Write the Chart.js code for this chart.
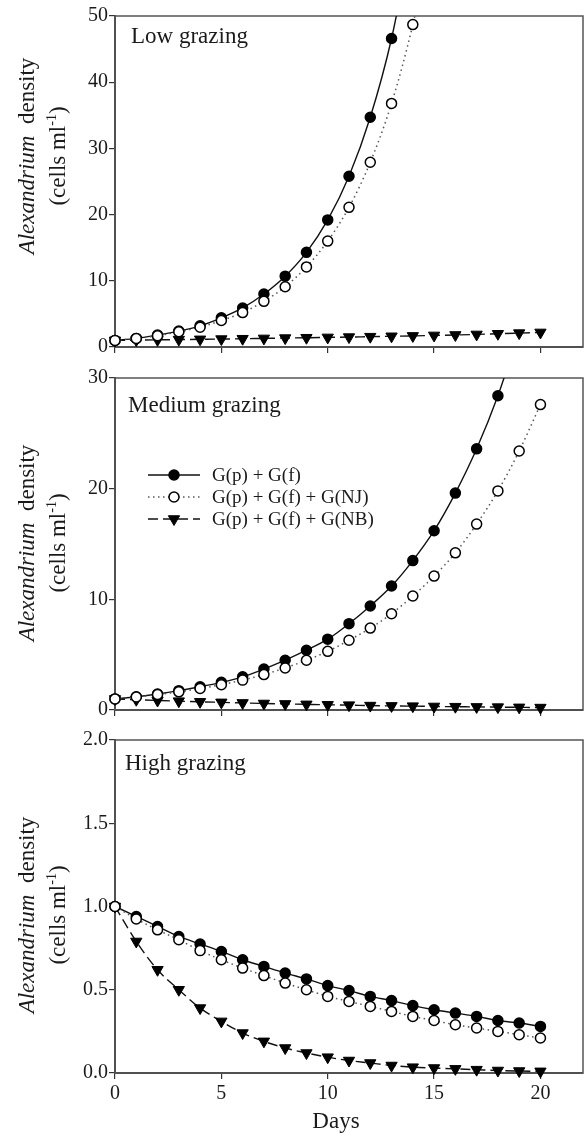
<!DOCTYPE html>
<html>
<head>
<meta charset="utf-8">
<script src="https://cdn.jsdelivr.net/npm/chart.js@4/dist/chart.umd.min.js"></script>
<style>
html, body { margin: 0; padding: 0; background: #fff; }
#wrap { position: relative; width: 586px; height: 1133px; }
canvas { position: absolute; left: 0; }
</style>
</head>
<body>
<div id="wrap">
  <canvas id="low" width="586" height="360" style="top:0px"></canvas>
  <canvas id="medium" width="586" height="363" style="top:360px"></canvas>
  <canvas id="high" width="586" height="410" style="top:723px"></canvas>
</div>
<script>
// days on the x axis
const days = [0,1,2,3,4,5,6,7,8,9,10,11,12,13,14,15,16,17,18,19,20];
const xTicks = [0,5,10,15,20];

// series names (legend)
const seriesNames = ["G(p) + G(f)", "G(p) + G(f) + G(NJ)", "G(p) + G(f) + G(NB)"];

// Low grazing (last points run off the top of the panel)
const lowP  = [1.0,1.3,1.8,2.4,3.2,4.4,5.9,8.0,10.7,14.3,19.2,25.8,34.7,46.6,63];
const lowNJ = [1.0,1.3,1.7,2.3,3.0,4.0,5.2,6.9,9.1,12.1,16.0,21.1,27.9,36.8,48.7,64];
const lowNB = [1.0,1.04,1.08,1.12,1.16,1.2,1.25,1.3,1.35,1.4,1.45,1.5,1.56,1.62,1.68,1.75,1.82,1.9,2.0,2.1,2.2];
const lowTicks = [0,10,20,30,40,50];

// Medium grazing
const medP  = [1.0,1.2,1.45,1.75,2.1,2.5,3.0,3.7,4.5,5.4,6.4,7.8,9.4,11.2,13.5,16.2,19.6,23.6,28.4,34.2];
const medNJ = [1.0,1.18,1.39,1.64,1.94,2.29,2.7,3.2,3.8,4.5,5.3,6.3,7.4,8.7,10.3,12.1,14.2,16.8,19.8,23.4,27.6];
const medNB = [1.0,0.93,0.86,0.8,0.74,0.69,0.64,0.59,0.55,0.51,0.47,0.44,0.4,0.37,0.35,0.32,0.3,0.28,0.26,0.24,0.22];
const medTicks = [0,10,20,30];

// High grazing
const highP  = [1.0,0.94,0.88,0.82,0.775,0.73,0.68,0.64,0.6,0.565,0.525,0.495,0.46,0.435,0.405,0.38,0.36,0.34,0.315,0.3,0.28];
const highNJ = [1.0,0.925,0.86,0.8,0.735,0.68,0.63,0.585,0.54,0.5,0.46,0.43,0.4,0.37,0.34,0.315,0.29,0.27,0.25,0.23,0.21];
const highNB = [1.0,0.79,0.62,0.5,0.39,0.31,0.24,0.19,0.15,0.12,0.095,0.075,0.06,0.045,0.035,0.03,0.025,0.02,0.015,0.012,0.01];
const highTicks = [0,0.5,1,1.5,2];

const FONT = '"Liberation Serif", "Times New Roman", serif';
const INK = '#1a1a1a';

const styles = [
  { borderColor: '#111', borderWidth: 1.4, borderDash: [], pointStyle: 'circle', pointRadius: 5,
    pointBackgroundColor: '#000', pointBorderColor: '#000', pointBorderWidth: 1.5, pointRotation: 0, order: 1 },
  { borderColor: '#555', borderWidth: 1.5, borderDash: [1.5, 3.5], pointStyle: 'circle', pointRadius: 5,
    pointBackgroundColor: '#fff', pointBorderColor: '#000', pointBorderWidth: 1.5, pointRotation: 0, order: 0 },
  { borderColor: '#111', borderWidth: 1.4, borderDash: [10, 5], pointStyle: 'triangle', pointRadius: 6.5,
    pointBackgroundColor: '#000', pointBorderColor: '#000', pointBorderWidth: 1, pointRotation: 180, order: 2 }
];

function toPoints(vals) {
  return vals.map((v, i) => ({ x: days[i], y: v }));
}

function makeDatasets(p, nj, nb) {
  return [p, nj, nb].map((vals, i) => Object.assign({
    label: seriesNames[i],
    data: toPoints(vals),
    cubicInterpolationMode: 'monotone',
    fill: false,
    clip: { left: 12, right: 12, top: 0, bottom: 12 }
  }, styles[i]));
}

function drawMarker(ctx, s, x, y) {
  ctx.save();
  ctx.setLineDash([]);
  ctx.fillStyle = s.pointBackgroundColor;
  ctx.strokeStyle = s.pointBorderColor;
  ctx.lineWidth = s.pointBorderWidth;
  ctx.beginPath();
  if (s.pointStyle === 'circle') {
    ctx.arc(x, y, s.pointRadius, 0, Math.PI * 2);
  } else {
    const r = s.pointRadius;
    ctx.moveTo(x, y + r);
    ctx.lineTo(x - r * 0.866, y - r / 2);
    ctx.lineTo(x + r * 0.866, y - r / 2);
    ctx.closePath();
  }
  ctx.fill();
  ctx.stroke();
  ctx.restore();
}

function drawYLabel(ctx, cy) {
  ctx.save();
  ctx.fillStyle = INK;
  ctx.textBaseline = 'alphabetic';
  ctx.textAlign = 'left';
  ctx.translate(34, cy);
  ctx.rotate(-Math.PI / 2);
  ctx.font = 'italic 23px ' + FONT;
  const w1 = ctx.measureText('Alexandrium').width;
  ctx.font = '23px ' + FONT;
  const w2 = ctx.measureText('  density').width;
  let x = -(w1 + w2) / 2;
  ctx.font = 'italic 23px ' + FONT;
  ctx.fillText('Alexandrium', x, 0);
  ctx.font = '23px ' + FONT;
  ctx.fillText('  density', x + w1, 0);
  ctx.restore();

  ctx.save();
  ctx.fillStyle = INK;
  ctx.textBaseline = 'alphabetic';
  ctx.textAlign = 'left';
  ctx.translate(65, cy);
  ctx.rotate(-Math.PI / 2);
  ctx.font = '23px ' + FONT;
  const a = ctx.measureText('(cells ml').width;
  const c = ctx.measureText(')').width;
  ctx.font = '14px ' + FONT;
  const b = ctx.measureText('-1').width;
  x = -(a + b + c) / 2;
  ctx.font = '23px ' + FONT;
  ctx.fillText('(cells ml', x, 0);
  ctx.fillText(')', x + a + b, 0);
  ctx.font = '14px ' + FONT;
  ctx.fillText('-1', x + a, -9);
  ctx.restore();
}

const panelDeco = {
  id: 'panelDeco',
  beforeDatasetsDraw(chart) {
    const { ctx, chartArea: a } = chart;
    ctx.save();
    ctx.strokeStyle = '#555';
    ctx.lineWidth = 1.5;
    ctx.strokeRect(a.left, a.top, a.right - a.left, a.bottom - a.top);
    ctx.restore();
  },
  afterDraw(chart, args, o) {
    const ctx = chart.ctx;
    ctx.save();
    ctx.fillStyle = INK;
    ctx.font = '23px ' + FONT;
    ctx.textAlign = 'left';
    ctx.textBaseline = 'alphabetic';
    ctx.fillText(o.title, o.titleX, o.titleY);
    ctx.restore();
    drawYLabel(ctx, o.labelY);

    if (o.legendY) {
      seriesNames.forEach((name, i) => {
        const s = styles[i];
        const y = o.legendY + i * 22;
        ctx.save();
        ctx.strokeStyle = s.borderColor;
        ctx.lineWidth = s.borderWidth;
        ctx.setLineDash(s.borderDash);
        ctx.beginPath();
        ctx.moveTo(148, y);
        ctx.lineTo(200, y);
        ctx.stroke();
        ctx.restore();
        drawMarker(ctx, s, 174, y);
        ctx.save();
        ctx.fillStyle = INK;
        ctx.font = '19px ' + FONT;
        ctx.textAlign = 'left';
        ctx.textBaseline = 'middle';
        ctx.fillText(name, 212, y + 1);
        ctx.restore();
      });
    }
    if (o.daysY) {
      ctx.save();
      ctx.fillStyle = INK;
      ctx.font = '23px ' + FONT;
      ctx.textAlign = 'center';
      ctx.textBaseline = 'middle';
      ctx.fillText('Days', 336, o.daysY);
      ctx.restore();
    }
  }
};

function makePanel(id, datasets, yMax, yTicks, deco, padTop, xHeight, showX, fmt) {
  new Chart(document.getElementById(id), {
    type: 'line',
    data: { datasets: datasets },
    plugins: [panelDeco],
    options: {
      responsive: false,
      animation: false,
      events: [],
      layout: { autoPadding: false, padding: { top: padTop, right: 3, left: 0, bottom: 0 } },
      plugins: {
        legend: { display: false },
        tooltip: { enabled: false },
        panelDeco: deco
      },
      scales: {
        x: {
          type: 'linear',
          min: 0,
          max: 22,
          afterBuildTicks: (s) => { s.ticks = xTicks.map(v => ({ value: v })); },
          afterFit: (s) => { s.height = xHeight; },
          grid: { drawOnChartArea: false, drawTicks: true, tickLength: 6, color: '#333', lineWidth: 1.2 },
          border: { display: true, color: '#444', width: 2 },
          ticks: { display: showX, color: INK, padding: 3, maxRotation: 0, font: { family: FONT, size: 20 } }
        },
        y: {
          type: 'linear',
          min: 0,
          max: yMax,
          afterBuildTicks: (s) => { s.ticks = yTicks.map(v => ({ value: v })); },
          afterFit: (s) => { s.width = 115; },
          grid: { drawOnChartArea: false, drawTicks: true, tickLength: 6, color: '#333', lineWidth: 1.2 },
          border: { display: true, color: '#444', width: 2 },
          ticks: { color: INK, padding: 1, font: { family: FONT, size: 20 }, callback: fmt }
        }
      }
    }
  });
}

makePanel('low', makeDatasets(lowP, lowNJ, lowNB), 50, lowTicks,
  { title: 'Low grazing', titleX: 131, titleY: 43, labelY: 156 }, 16, 10, false, v => String(v));

makePanel('medium', makeDatasets(medP, medNJ, medNB), 30, medTicks,
  { title: 'Medium grazing', titleX: 128, titleY: 51.5, labelY: 183, legendY: 115 }, 18, 10, false, v => String(v));

makePanel('high', makeDatasets(highP, highNJ, highNB), 2, highTicks,
  { title: 'High grazing', titleX: 125, titleY: 47, labelY: 192, daysY: 399 }, 17, 60, true, v => v.toFixed(1));
</script>
</body>
</html>
